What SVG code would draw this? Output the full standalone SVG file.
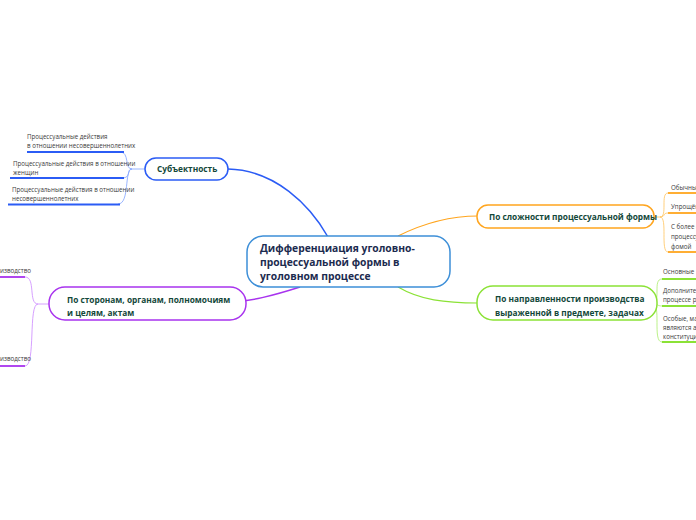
<svg xmlns="http://www.w3.org/2000/svg" width="696" height="520" viewBox="0 0 696 520">
<style>
.t{font-family:"Open Sans","Noto Sans",sans-serif;font-weight:bold;font-size:8.3px;fill:#13483a}
.c{font-family:"Open Sans","Noto Sans",sans-serif;font-weight:bold;font-size:10.3px;fill:#1c2b4f}
.s{font-family:"Open Sans","Noto Sans",sans-serif;font-size:6.2px;fill:#3a3a3a}
.n{fill:#fff;stroke-width:1.5}
.l{fill:none}
</style>
<rect width="696" height="520" fill="#fff"/>
<g id="connectors">
<path class="l" d="M228 169 C275 170 310 205 328 237" stroke="#2b5cf5" stroke-width="1.5"/>
<path class="l" d="M398 236 C420 225 445 216 478 216" stroke="#ffa51e" stroke-width="1.2"/>
<path class="l" d="M398 287 C420 300 445 303 478 303" stroke="#8be236" stroke-width="1.2"/>
<path class="l" d="M300 287 C275 295 250 302 222 303" stroke="#a833ee" stroke-width="1.5"/>
<g stroke="#7fa2ff" stroke-width="0.8" fill="none">
<path d="M145 169 L132 169"/>
<path d="M132 169 C124 169 130 152 120 152"/>
<path d="M132 169 C126 169 132 178 122 178"/>
<path d="M132 169 C124 169 130 204 118 204"/>
</g>
<g stroke="#2b5cf5" stroke-width="1.8">
<path d="M27 152 H124"/>
<path d="M10 178 H124"/>
<path d="M8 204.5 H120"/>
</g>
<g stroke="#ffc35c" stroke-width="0.8" fill="none">
<path d="M652 217 L660 217"/>
<path d="M660 217 C668 217 660 193 668 193"/>
<path d="M660 217 C666 217 662 213 668 213"/>
<path d="M660 217 C668 217 660 252 668 252"/>
</g>
<g stroke="#ffa51e" stroke-width="1.8">
<path d="M668 193 H696"/>
<path d="M668 213 H696"/>
<path d="M668 252 H696"/>
</g>
<g stroke="#a9ee6a" stroke-width="0.8" fill="none">
<path d="M640 303 L652 303"/>
<path d="M652 303 C662 303 652 279 662 279"/>
<path d="M652 303 C658 303 656 306 662 306"/>
<path d="M652 303 C662 303 652 342 662 342"/>
</g>
<g stroke="#8be236" stroke-width="1.8">
<path d="M662 279 H696"/>
<path d="M662 306 H696"/>
<path d="M662 342 H696"/>
</g>
<g stroke="#cc88ff" stroke-width="0.8" fill="none">
<path d="M49 304 L38 304"/>
<path d="M38 304 C28 304 36 277 25 277"/>
<path d="M38 304 C28 304 36 366 25 366"/>
</g>
<g stroke="#a833ee" stroke-width="1.8">
<path d="M0 277 H25"/>
<path d="M0 366 H25"/>
</g>
</g>
<g id="center">
<rect class="n" x="247" y="236" width="203" height="51" rx="16" stroke="#3d8fd8"/>
<text class="c" x="260" y="252">Дифференциация уголовно-</text>
<text class="c" x="260" y="266">процессуальной формы в</text>
<text class="c" x="260" y="280">уголовном процессе</text>
</g>
<g id="subject">
<rect class="n" x="145" y="158" width="83" height="22" rx="11" stroke="#2b5cf5"/>
<text class="t" x="157" y="172">Субъектность</text>
<text class="s" x="27" y="139">Процессуальные действия</text>
<text class="s" x="27" y="148">в отношении несовершеннолетних</text>
<text class="s" x="13" y="166">Процессуальные действия в отношении</text>
<text class="s" x="13" y="175">женщин</text>
<text class="s" x="12" y="192">Процессуальные действия в отношении</text>
<text class="s" x="12" y="201">несовершеннолетних</text>
</g>
<g id="complexity">
<rect class="n" x="477" y="205" width="177" height="23" rx="11" stroke="#ffa51e"/>
<text class="t" x="489" y="220">По сложности процессуальной формы</text>
<text class="s" x="671" y="190">Обычные</text>
<text class="s" x="671" y="209">Упрощённые</text>
<text class="s" x="671" y="229">С более сложной</text>
<text class="s" x="671" y="239">процессуальной</text>
<text class="s" x="671" y="249">фомой</text>
</g>
<g id="direction">
<rect class="n" x="477" y="286" width="180" height="34" rx="16" stroke="#8be236"/>
<text class="t" x="495" y="302">По направленности производства</text>
<text class="t" x="495" y="316">выраженной в предмете, задачах</text>
<text class="s" x="663" y="274">Основные</text>
<text class="s" x="663" y="293">Дополнительные</text>
<text class="s" x="663" y="302">процессе рассмотрения</text>
<text class="s" x="663" y="321">Особые, мало</text>
<text class="s" x="663" y="330">являются актами</text>
<text class="s" x="663" y="339">конституционного</text>
</g>
<g id="sides">
<rect class="n" x="49" y="287" width="197" height="33" rx="16" stroke="#a833ee"/>
<text class="t" x="67" y="303">По сторонам, органам, полномочиям</text>
<text class="t" x="67" y="316">и целям, актам</text>
<text class="s" x="31" y="273" text-anchor="end">Досудебное производство</text>
<text class="s" x="31" y="361" text-anchor="end">Судебное производство</text>
</g>
</svg>
